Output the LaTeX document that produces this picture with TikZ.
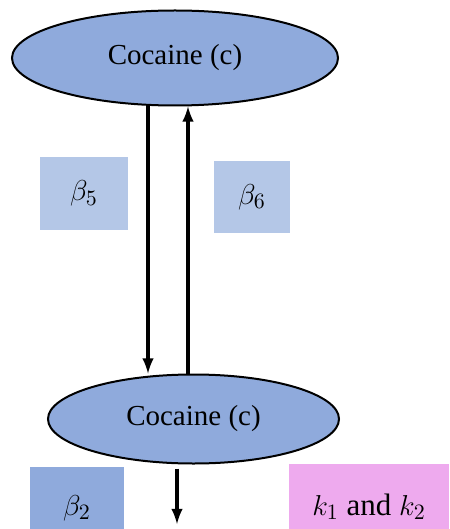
\documentclass[tikz,border=0pt]{standalone}
\usepackage{fontspec}
\setmainfont{Liberation Serif}
\usepackage{tikz}
\usetikzlibrary{
    arrows,
    shapes,
    calc,
    positioning
}
\definecolor{drugblue}{HTML}{8FAADC}
\definecolor{rateblue}{HTML}{B4C7E7}
\definecolor{ratepink}{HTML}{EEAAEE}
\tikzset{
    compartment/.style={ellipse, draw, line width=1pt, fill=drugblue, inner sep=0pt},
    rate/.style={rectangle, inner sep=0pt, font=\fontsize{15.5}{18}\selectfont}
}

\begin{document}
\begin{tikzpicture}[x=0.5pt, y=-0.5pt, font=\fontsize{14.5}{17}\selectfont, >=latex]
                                \useasboundingbox (0, 0) rectangle (449, 529);
                                \node[compartment, minimum width=163pt, minimum height=47.5pt] (top) at (175, 58) {Cocaine (c)};
                                \node[compartment, minimum width=145.5pt, minimum height=44.5pt] (bot) at (193.5, 419) {Cocaine (c)};
                                \node[rate, fill=rateblue, minimum width=44pt, minimum height=36.5pt] (b5) at (84, 193.5) {$\beta_5$};
                                \node[rate, fill=rateblue, minimum width=38pt, minimum height=36pt] (b6) at (252, 197) {$\beta_6$};
                                \node[rate, fill=drugblue, minimum width=47pt, minimum height=41pt] (b2) at (77, 508) {$\beta_2$};
                                \node[rate, fill=ratepink, minimum width=80pt, minimum height=43pt] (k) at (369, 507) {$k_1$ and $k_2$};
                                \coordinate (down) at (148, 0);
                                \coordinate (up) at (188, 0);
                                \coordinate (out) at (177, 524);
                                \draw[line width=1.6pt]
                                (top.south -| down) edge[->] (bot.north -| down)
                                (bot.north -| up) edge[->] (top.south -| up)
                                ([yshift=-2pt]bot.south -| out) edge[->] (out);
                            \end{tikzpicture}
\end{document}
